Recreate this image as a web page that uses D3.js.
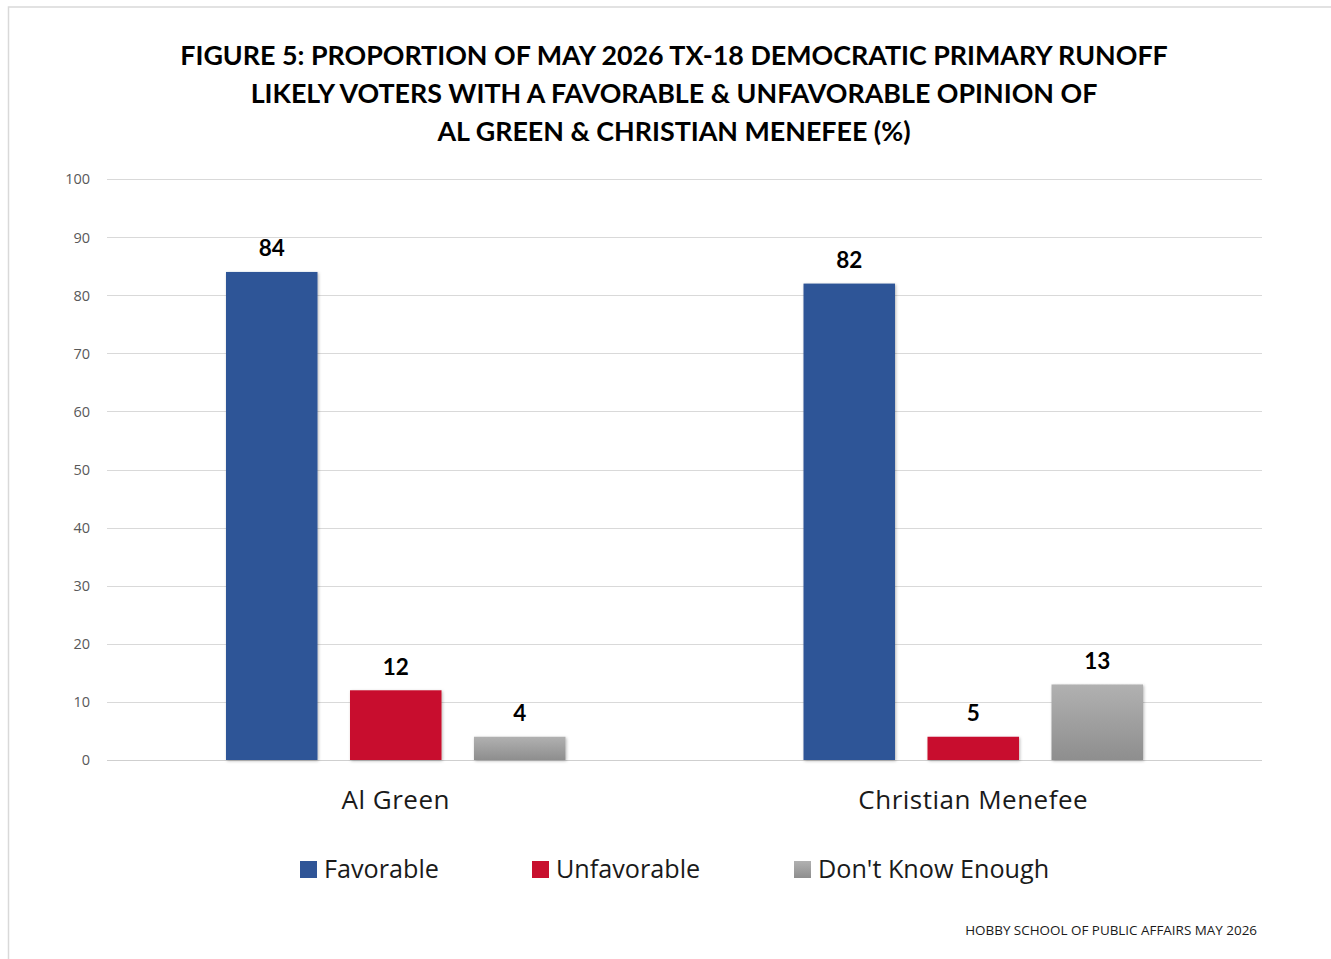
<!DOCTYPE html>
<html>
<head>
<meta charset="utf-8">
<script src="https://cdn.jsdelivr.net/npm/d3@7"></script>
<style>
  html, body { margin: 0; padding: 0; background: #fff; }
  svg { display: block; }
</style>
</head>
<body>
<svg id="chart" width="1331" height="959"></svg>
<script>
// ---- Data ----
const titleLines = [
  "FIGURE 5: PROPORTION OF MAY 2026 TX-18 DEMOCRATIC PRIMARY RUNOFF",
  "LIKELY VOTERS WITH A FAVORABLE & UNFAVORABLE OPINION OF",
  "AL GREEN & CHRISTIAN MENEFEE (%)"
];
const categories = ["Al Green", "Christian Menefee"];
const seriesNames = ["Favorable", "Unfavorable", "Don't Know Enough"];
const favorable = [84, 82];
const unfavorable = [12, 4];
const dontKnow = [4, 13];
const favorableLabels = ["84", "82"];
const unfavorableLabels = ["12", "5"];
const dontKnowLabels = ["4", "13"];
const yTicks = [0, 10, 20, 30, 40, 50, 60, 70, 80, 90, 100];
const sourceText = "HOBBY SCHOOL OF PUBLIC AFFAIRS MAY 2026";

const seriesValues = [favorable, unfavorable, dontKnow];
const seriesLabels = [favorableLabels, unfavorableLabels, dontKnowLabels];

// ---- Layout ----
const FONT = "Lato, 'Open Sans', sans-serif";
const FONT2 = "'Open Sans', Lato, sans-serif";
const svg = d3.select("#chart");
const plot = { left: 107, right: 1262, top: 179, bottom: 760 };

const defs = svg.append("defs");
const grad = defs.append("linearGradient").attr("id", "grayGrad")
  .attr("x1", 0).attr("y1", 0).attr("x2", 0).attr("y2", 1);
grad.append("stop").attr("offset", "0%").attr("stop-color", "#b1b1b1");
grad.append("stop").attr("offset", "100%").attr("stop-color", "#8e8e8e");
const shadow = defs.append("filter").attr("id", "shadow")
  .attr("x", "-10%").attr("y", "-10%").attr("width", "130%").attr("height", "130%");
shadow.append("feDropShadow").attr("dx", 1).attr("dy", 1)
  .attr("stdDeviation", 1.5).attr("flood-color", "#000").attr("flood-opacity", 0.28);

const colors = ["#2F5597", "#C8102E", "url(#grayGrad)"];

// Outer frame
svg.append("rect").attr("x", 8.5).attr("y", 7).attr("width", 1400).attr("height", 1000)
  .attr("fill", "none").attr("stroke", "#d9d9d9").attr("stroke-width", 1.5);

// Title
const titleG = svg.append("g");
const titleBaselines = [64.5, 102.5, 140.5];
const titleTexts = titleG.selectAll("text").data(titleLines).join("text")
  .attr("x", 674).attr("y", (d, i) => titleBaselines[i])
  .attr("text-anchor", "middle")
  .attr("font-family", FONT).attr("font-weight", 700)
  .attr("font-size", 26).attr("fill", "#000")
  .text(d => d);
const w0 = titleTexts.nodes()[0].getComputedTextLength();
const titleSize = 26 * 988 / w0;
titleTexts.attr("font-size", titleSize);

// Scales
const x0 = d3.scaleBand().domain(categories).range([plot.left, plot.right]).padding(0);
const half = x0.bandwidth() / 2;
const x1 = d3.scaleBand().domain(seriesNames)
  .range([half - 186, half + 186]).paddingInner(0.262).paddingOuter(0.131);
const y = d3.scaleLinear().domain([0, 100]).range([plot.bottom, plot.top]);

// Gridlines
const grid = svg.append("g");
grid.selectAll("line").data(yTicks).join("line")
  .attr("x1", plot.left).attr("x2", plot.right)
  .attr("y1", d => Math.round(y(d)) + 0.5).attr("y2", d => Math.round(y(d)) + 0.5)
  .attr("stroke", d => d === 0 ? "#cfcfcf" : "#d9d9d9").attr("stroke-width", 1);

// Y axis labels
const yAxis = svg.append("g")
  .attr("transform", `translate(${plot.left - 17},0)`)
  .call(d3.axisLeft(y).tickValues(yTicks).tickSize(0).tickPadding(0));
yAxis.select(".domain").remove();
yAxis.selectAll("text")
  .attr("font-family", FONT2).attr("font-size", 14.5).attr("fill", "#595959")
  .attr("dy", "0.34em");

// Bars
const barsG = svg.append("g");
const rows = [];
categories.forEach((c, ci) => {
  seriesNames.forEach((s, si) => {
    rows.push({ cat: c, series: s, si, value: seriesValues[si][ci], label: seriesLabels[si][ci] });
  });
});
barsG.selectAll("rect").data(rows).join("rect")
  .attr("x", d => x0(d.cat) + x1(d.series))
  .attr("y", d => y(d.value))
  .attr("width", x1.bandwidth())
  .attr("height", d => y(0) - y(d.value))
  .attr("fill", d => colors[d.si])
  .attr("filter", "url(#shadow)");

// Data labels
barsG.selectAll("text").data(rows).join("text")
  .attr("x", d => x0(d.cat) + x1(d.series) + x1.bandwidth() / 2)
  .attr("y", d => y(d.value) - 15.5)
  .attr("text-anchor", "middle")
  .attr("font-family", FONT).attr("font-weight", 700).attr("font-size", 22.5)
  .attr("fill", "#000")
  .text(d => d.label);

// Category labels
svg.append("g").selectAll("text").data(categories).join("text")
  .attr("x", d => x0(d) + x0.bandwidth() / 2)
  .attr("y", 809)
  .attr("text-anchor", "middle")
  .attr("font-family", FONT2).attr("font-size", 26).attr("letter-spacing", 0.5)
  .attr("fill", "#1a1a1a")
  .text(d => d);

// Legend
const legendX = [300, 532, 794];
const legend = svg.append("g");
const li = legend.selectAll("g").data(seriesNames).join("g")
  .attr("transform", (d, i) => `translate(${legendX[i]},861)`);
li.append("rect").attr("width", 17).attr("height", 17)
  .attr("fill", (d, i) => colors[i]);
li.append("text").attr("x", 24).attr("y", 16.5)
  .attr("font-family", FONT2).attr("font-size", 25.2).attr("fill", "#1a1a1a")
  .text(d => d);

// Source
const src = svg.append("text").attr("x", 1257).attr("y", 935)
  .attr("text-anchor", "end")
  .attr("font-family", FONT2).attr("font-size", 12.5).attr("fill", "#1a1a1a")
  .text(sourceText);
const ws = src.node().getComputedTextLength();
src.attr("font-size", 12.5 * 292 / ws);
</script>
</body>
</html>
